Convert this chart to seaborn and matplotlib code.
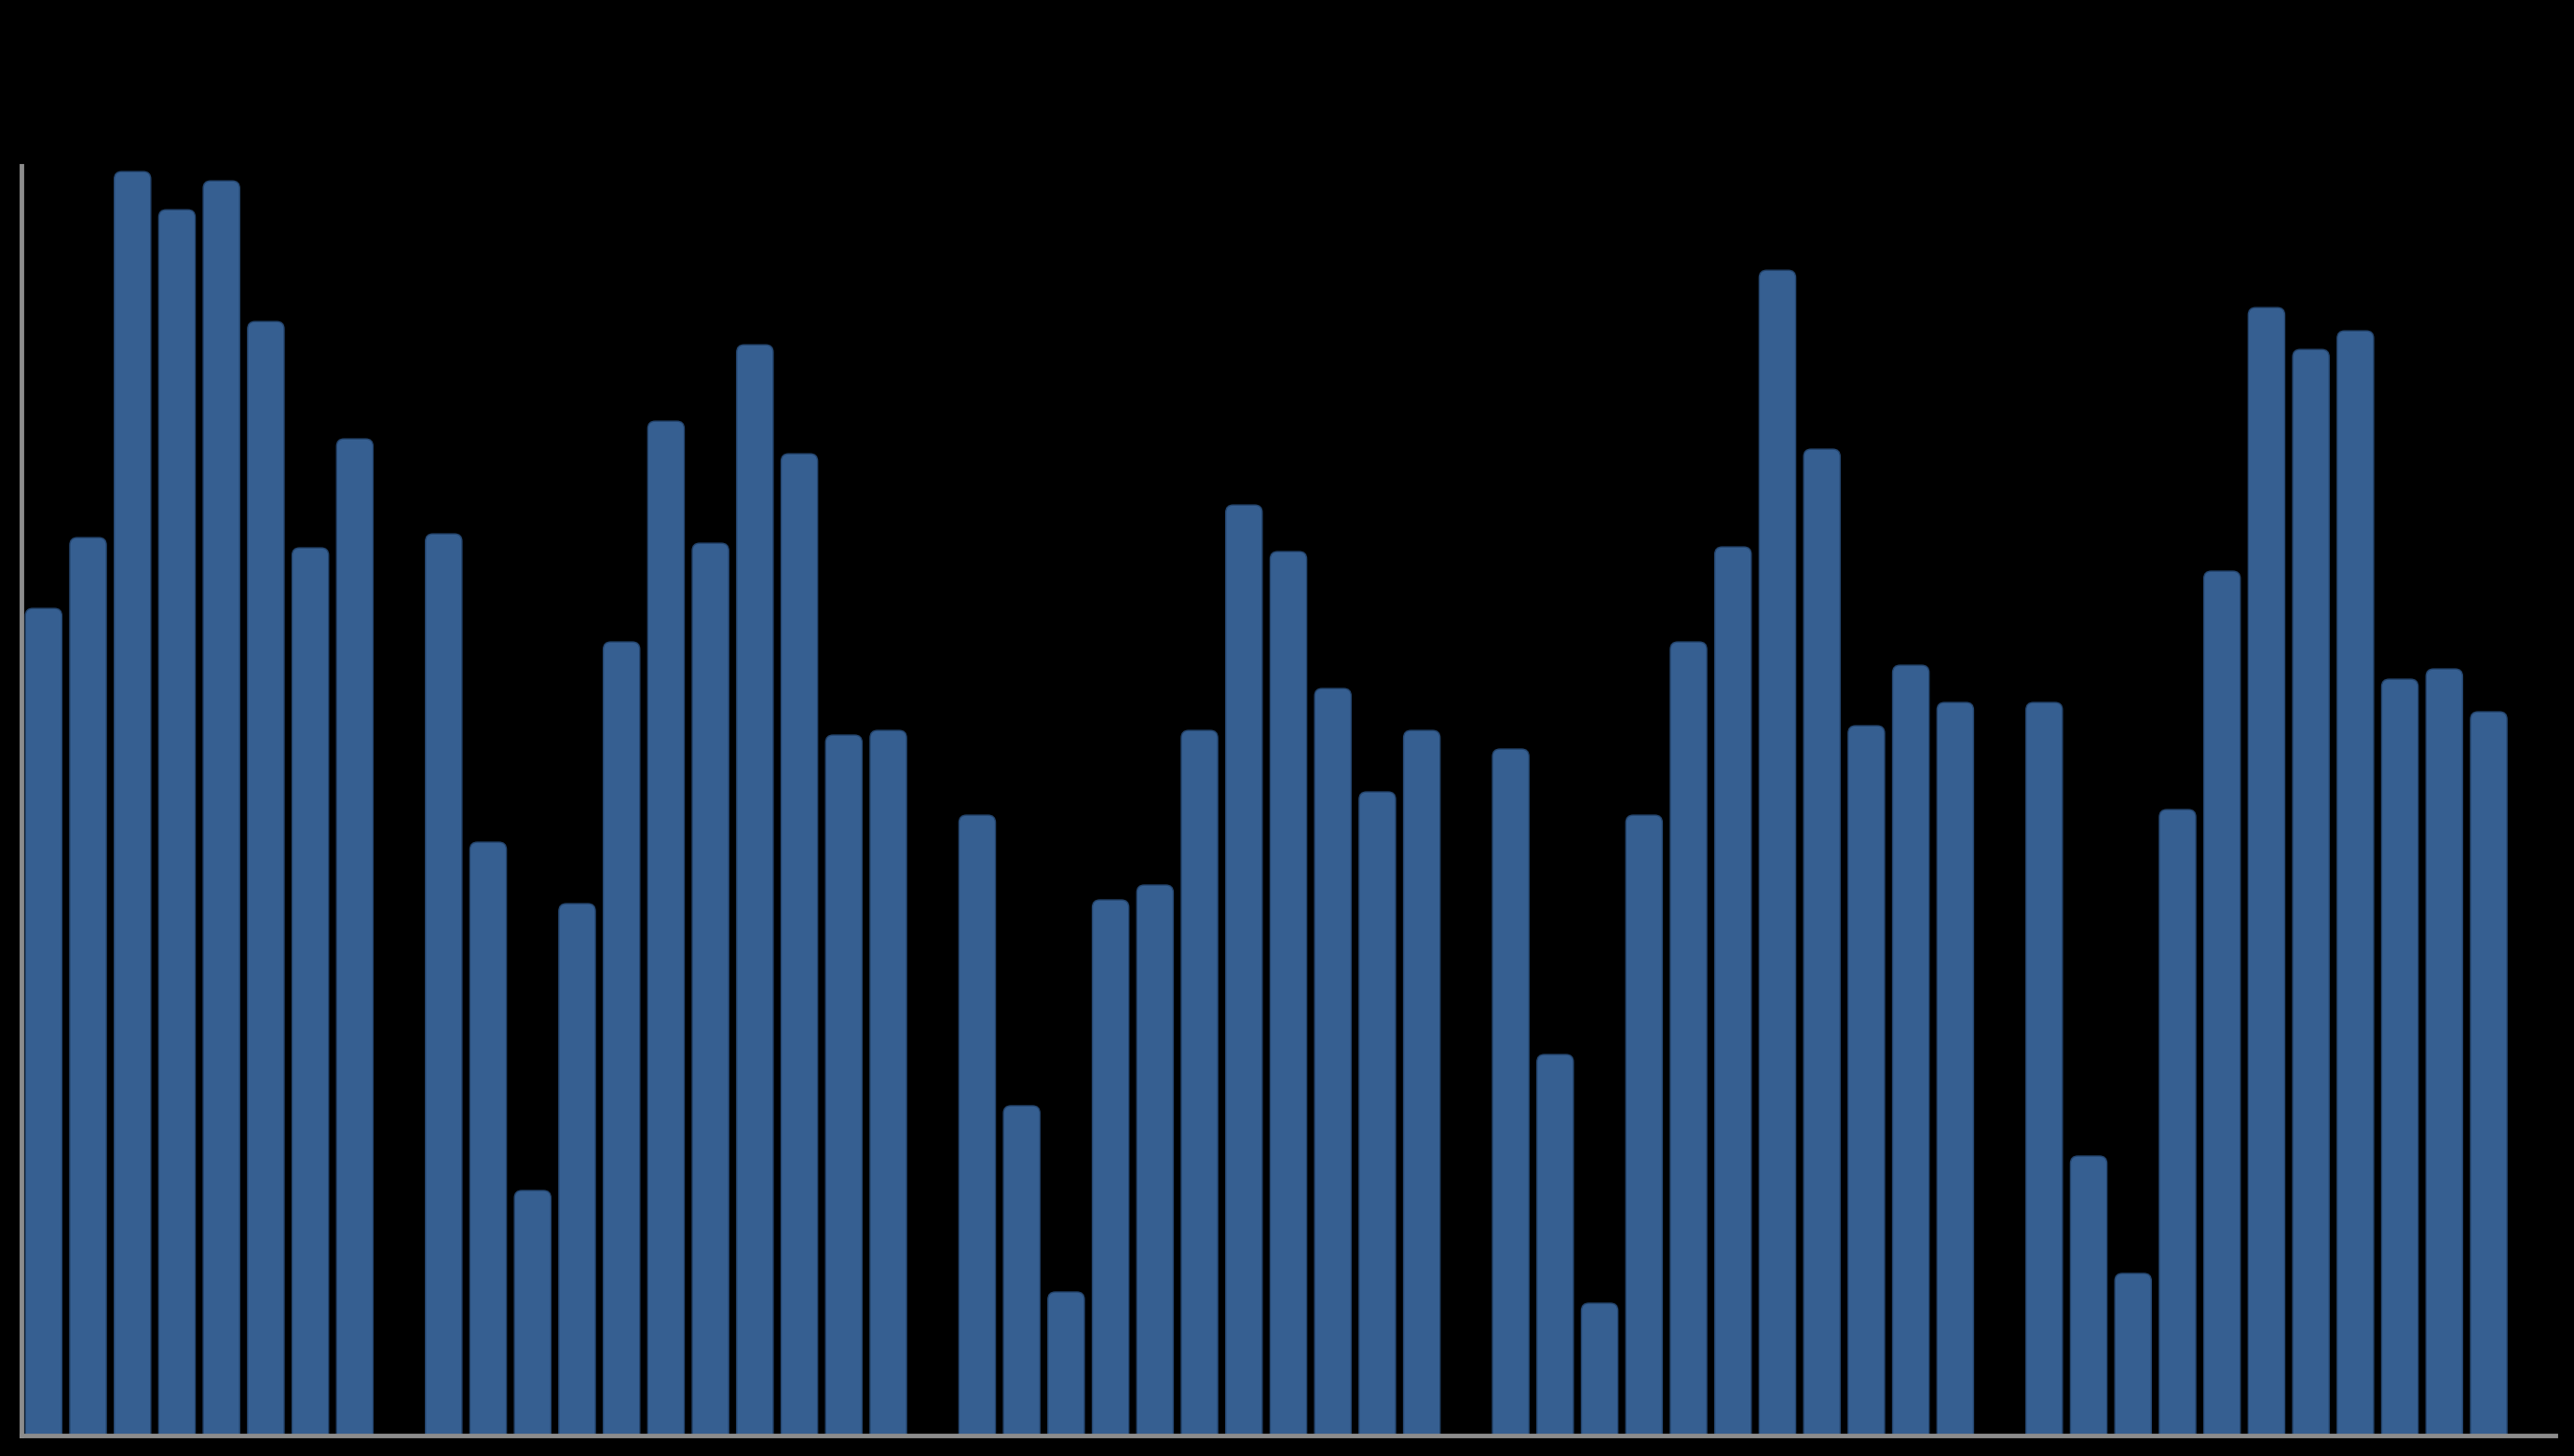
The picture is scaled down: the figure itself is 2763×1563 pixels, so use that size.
import numpy as np
import pandas as pd
import seaborn as sns
import matplotlib.pyplot as plt
from matplotlib.patches import FancyBboxPatch

# valeurs (hauteurs relatives)
groupe1 = [888, 964, 1357, 1316, 1347, 1196, 953, 1070]
groupe2 = [968, 637, 263, 571, 852, 1089, 958, 1171, 1054, 752, 757]
groupe3 = [666, 354, 154, 575, 591, 757, 999, 949, 802, 691, 757]
groupe4 = [737, 409, 142, 666, 852, 954, 1251, 1059, 762, 827, 787]
groupe5 = [787, 300, 174, 672, 928, 1211, 1166, 1186, 812, 823, 777]

# une case vide apres chaque groupe
valeurs = []
for g in [groupe1, groupe2, groupe3, groupe4, groupe5]:
    valeurs += g + [np.nan]

df = pd.DataFrame({"slot": [str(i) for i in range(len(valeurs))], "val": valeurs})

bleu = "#365f91"
gris = "#8c8c8c"

sns.set_style("dark")
fig = plt.figure(figsize=(27.63, 15.63), dpi=100, facecolor="black")
ax = fig.add_axes([0.0083, 0.0141, 0.9845, 0.8719])
ax.set_facecolor("black")

sns.barplot(data=df, x="slot", y="val", order=df["slot"], color=bleu,
            width=0.82, saturation=1, ax=ax, errorbar=None)

ax.set_xlim(-0.5, len(valeurs) - 0.5)
ax.set_ylim(0, 1363)

# coins arrondis en haut des barres
px_x = ax.get_window_extent().width / (len(valeurs))
px_y = ax.get_window_extent().height / 1363
aspect = (1 / px_y) / (1 / px_x)
for p in list(ax.patches):
    h = p.get_height()
    x0 = p.get_x()
    w = p.get_width()
    p.remove()
    if not np.isfinite(h) or h <= 0:
        continue
    r = 8 / px_x
    ax.add_patch(FancyBboxPatch((x0, -20), w, h + 20,
                                boxstyle=f"round,pad=0,rounding_size={r}",
                                mutation_aspect=aspect,
                                facecolor=bleu, edgecolor="#24456e", linewidth=1))

for s in ["top", "right"]:
    ax.spines[s].set_visible(False)
for s in ["left", "bottom"]:
    ax.spines[s].set_color(gris)
    ax.spines[s].set_linewidth(3.5)

ax.set_xticks(np.arange(-0.5, len(valeurs), 1))
ax.set_xticklabels([])
ax.set_yticks([])
ax.tick_params(axis="x", length=3, width=1.5, color=gris, direction="inout")
ax.set_xlabel("")
ax.set_ylabel("")
ax.grid(False)

fig.savefig("out.png", dpi=100, facecolor="black")
